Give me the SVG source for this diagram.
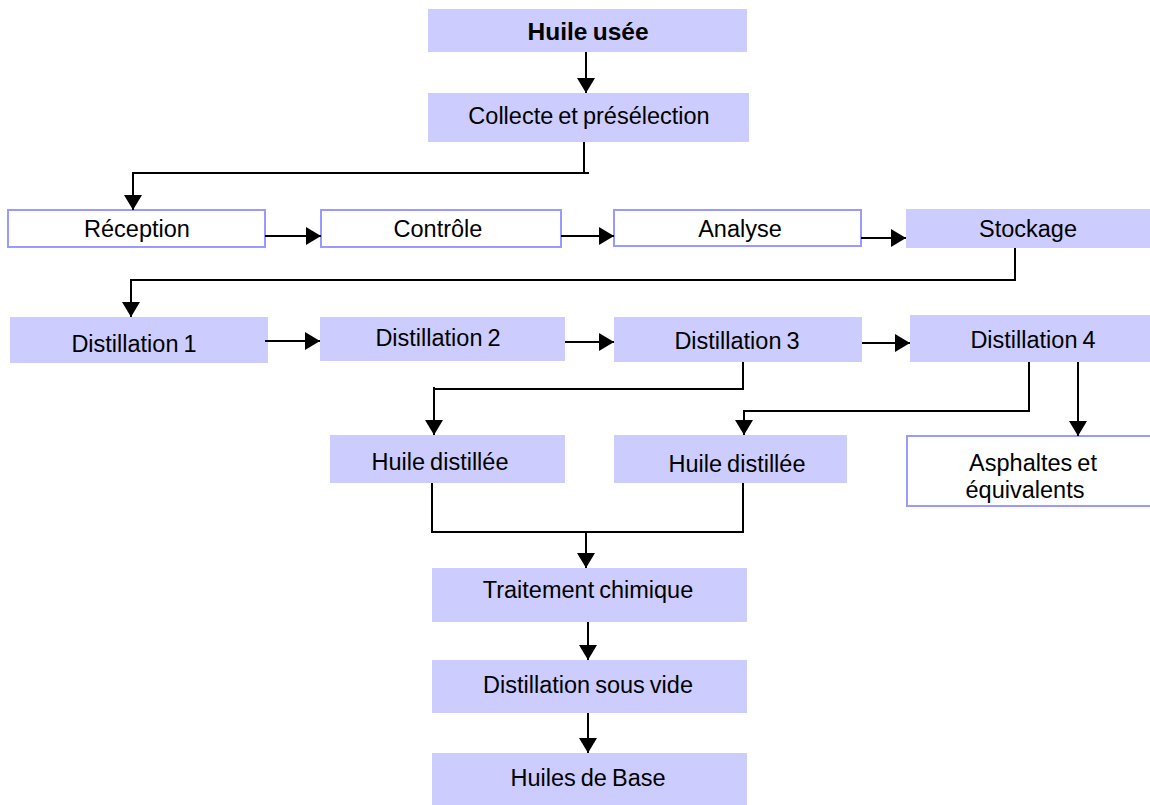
<svg xmlns="http://www.w3.org/2000/svg" width="1150" height="805" viewBox="0 0 1150 805">
  <style>
    .box { fill: #ccccff; }
    .open { fill: #ffffff; stroke: #9999ff; stroke-width: 2; }
    .lbl { font-family: "Liberation Sans", Arial, sans-serif; font-size: 23.5px; fill: #000000; text-anchor: middle; word-spacing: -1.5px; }
    .bold { font-weight: bold; font-size: 24.5px; }
    .wire { fill: none; stroke: #000000; stroke-width: 2; }
  </style>
  <defs>
    <marker id="arrow" markerUnits="userSpaceOnUse" markerWidth="16" markerHeight="18" refX="15" refY="9" orient="auto">
      <path d="M0,0 L15,9 L0,18 Z" fill="#000000"/>
    </marker>
  </defs>

  <rect width="1150" height="805" fill="#ffffff"/>

  <!-- process steps -->
  <g id="huile-usee"><rect class="box" x="428" y="9" width="319" height="43"/><text class="lbl bold" x="588" y="40">Huile usée</text></g>
  <g id="collecte"><rect class="box" x="428" y="93" width="321" height="49"/><text class="lbl" x="589" y="124">Collecte et présélection</text></g>

  <g id="reception"><rect class="open" x="8" y="210" width="257" height="37"/><text class="lbl" x="137" y="237">Réception</text></g>
  <g id="controle"><rect class="open" x="321" y="210" width="240" height="37"/><text class="lbl" x="438" y="237">Contrôle</text></g>
  <g id="analyse"><rect class="open" x="614" y="210" width="247" height="36"/><text class="lbl" x="740" y="237">Analyse</text></g>
  <g id="stockage"><rect class="box" x="906" y="209" width="244" height="39"/><text class="lbl" x="1028" y="237">Stockage</text></g>

  <g id="distillation-1"><rect class="box" x="10" y="317" width="258" height="46"/><text class="lbl" x="134" y="352">Distillation 1</text></g>
  <g id="distillation-2"><rect class="box" x="320" y="317" width="245" height="44"/><text class="lbl" x="438" y="346">Distillation 2</text></g>
  <g id="distillation-3"><rect class="box" x="614" y="317" width="248" height="45"/><text class="lbl" x="737" y="349">Distillation 3</text></g>
  <g id="distillation-4"><rect class="box" x="910" y="315" width="240" height="47"/><text class="lbl" x="1033" y="348">Distillation 4</text></g>

  <g id="huile-distillee-1"><rect class="box" x="330" y="435" width="235" height="48"/><text class="lbl" x="440" y="470">Huile distillée</text></g>
  <g id="huile-distillee-2"><rect class="box" x="614" y="435" width="233" height="48"/><text class="lbl" x="737" y="472">Huile distillée</text></g>
  <g id="asphaltes"><rect class="open" x="907" y="436" width="245" height="70"/><text class="lbl" x="1033" y="471">Asphaltes et</text><text class="lbl" x="1025" y="498">équivalents</text></g>

  <g id="traitement"><rect class="box" x="432" y="568" width="315" height="54"/><text class="lbl" x="588" y="598">Traitement chimique</text></g>
  <g id="distillation-vide"><rect class="box" x="432" y="660" width="315" height="53"/><text class="lbl" x="588" y="693">Distillation sous vide</text></g>
  <g id="huiles-base"><rect class="box" x="432" y="753" width="315" height="52"/><text class="lbl" x="588" y="786">Huiles de Base</text></g>

  <!-- connectors -->
  <g id="connectors">
    <path class="wire" d="M586,52 V93" marker-end="url(#arrow)"/>
    <path class="wire" d="M584,142 V173"/>
    <path class="wire" d="M589,173 H133 V210" marker-end="url(#arrow)"/>
    <path class="wire" d="M265,236 H321" marker-end="url(#arrow)"/>
    <path class="wire" d="M561,236 H614" marker-end="url(#arrow)"/>
    <path class="wire" d="M861,238 H906" marker-end="url(#arrow)"/>
    <path class="wire" d="M1015,248 V280 H131 V317" marker-end="url(#arrow)"/>
    <path class="wire" d="M265,341 H320" marker-end="url(#arrow)"/>
    <path class="wire" d="M565,342 H614" marker-end="url(#arrow)"/>
    <path class="wire" d="M862,343 H910" marker-end="url(#arrow)"/>
    <path class="wire" d="M743,362 V389 H434"/>
    <path class="wire" d="M434,387 V435" marker-end="url(#arrow)"/>
    <path class="wire" d="M1029,362 V411 H744 V435" marker-end="url(#arrow)"/>
    <path class="wire" d="M1078,362 V436" marker-end="url(#arrow)"/>
    <path class="wire" d="M432,483 V532 H743 V483"/>
    <path class="wire" d="M586,532 V568" marker-end="url(#arrow)"/>
    <path class="wire" d="M588,622 V660" marker-end="url(#arrow)"/>
    <path class="wire" d="M588,713 V753" marker-end="url(#arrow)"/>
  </g>
</svg>
